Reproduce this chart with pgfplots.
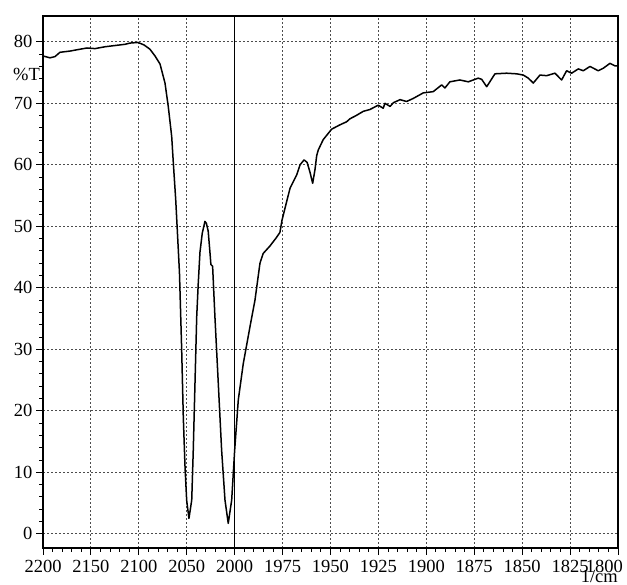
\documentclass[border=0pt]{standalone}
\usepackage{pgfplots}
\pgfplotsset{compat=1.18}
\usepackage{fontspec}
\setmainfont{Liberation Serif}

% IR spectrum, transmittance against wavenumber
% scale changes at 2000 1/cm: 50 per division left of it, 25 per division right of it
\begin{document}
\begin{tikzpicture}
\begin{axis}[
    scale only axis,
    width=575pt, height=532pt,
    xmin=0, xmax=12,
    ymin=-2.3, ymax=84.2,
    xtick={0,1,...,12},
    xticklabels={2200,2150,2100,2050,2000,1975,1950,1925,1900,1875,1850,1825,{\makebox[0pt][r]{1800\kern-5pt}}},
    ytick={0,10,...,80},
    minor x tick num=4,
    minor y tick num=4,
    tick pos=left,
    tick align=outside,
    major tick length=7pt,
    minor tick length=4pt,
    every tick/.style={black, line width=0.9pt},
    axis line style={line width=1.5pt},
    grid=major,
    major grid style={gray!60!black, line width=1pt, dash pattern=on 1.8pt off 2.2pt},
    tick label style={font=\fontsize{18.5}{20}\selectfont},
    xticklabel style={inner sep=1pt, yshift=-4.5pt},
    /pgf/number format/assume math mode=true,
    clip=false,
]
% scale change marker
\addplot[black, line width=1.6pt] coordinates {(4,-2.3) (4,84.2)};

\addplot[black, line width=1.5pt, line join=round] table[
    x expr={ifthenelse(\thisrow{w}>=2000, (2200-\thisrow{w})/50, 4+(2000-\thisrow{w})/25)},
    y=T] {
w T
2200 77.7
2192.7 77.4
2187.5 77.6
2182.3 78.3
2171.8 78.5
2161.4 78.8
2154.1 79.0
2145.7 78.9
2135.3 79.2
2124.9 79.4
2114.4 79.6
2109.2 79.8
2100.9 79.9
2094.6 79.5
2088.4 78.8
2083.1 77.7
2077.9 76.4
2072.7 73.3
2069.3 69.5
2065.7 64.6
2064.0 60.3
2061.5 54.3
2059.5 48.3
2057.6 42.5
2055.3 30.0
2053.6 19.0
2051.8 10.9
2050.1 5.5
2047.7 2.5
2044.8 5.5
2043.2 13.6
2041.4 24.5
2039.6 35.3
2038.0 40.7
2036.2 45.8
2033.8 48.9
2031.0 50.8
2029.5 50.5
2027.6 49.2
2025.8 45.8
2024.8 43.8
2023.0 43.5
2020.6 35.3
2017.1 24.5
2013.6 13.6
2010.1 5.5
2006.7 1.7
2003.1 5.5
2000.0 13.6
1998.1 21.8
1995.5 27.7
1992.0 33.7
1989.4 38.0
1986.8 44.0
1985.1 45.6
1981.6 46.8
1978.4 48.1
1976.4 49.0
1975.3 51.0
1973.7 53.0
1971.1 56.2
1967.6 58.4
1965.9 60.0
1963.8 60.8
1962.2 60.4
1960.7 58.8
1959.3 57.0
1958.1 59.2
1957.2 61.5
1956.4 62.4
1953.8 64.1
1949.4 65.8
1945.1 66.5
1941.6 67.0
1939.8 67.5
1936.7 68.0
1932.9 68.7
1929.4 69.0
1925.1 69.7
1922.5 69.2
1921.6 70.0
1918.9 69.5
1917.2 70.1
1913.7 70.6
1910.3 70.3
1906.8 70.8
1901.6 71.7
1896.4 71.9
1892.0 73.0
1890.3 72.5
1887.7 73.5
1882.5 73.8
1878.1 73.5
1872.9 74.1
1871.1 73.9
1868.5 72.7
1864.2 74.8
1858.1 74.9
1852.9 74.8
1849.4 74.6
1846.8 74.1
1844.2 73.3
1840.7 74.6
1837.2 74.5
1832.9 74.9
1829.4 73.8
1826.8 75.3
1824.2 74.9
1820.7 75.6
1818.1 75.3
1814.6 76.0
1810.3 75.3
1807.7 75.7
1804.2 76.5
1801.6 76.1
1800.0 76.1
};

% axis captions
\node[anchor=base east, font=\fontsize{18.5}{20}\selectfont, inner sep=0pt]
    at ([xshift=-3pt]axis cs:0,73.7) {\%T};
\node[anchor=base east, font=\fontsize{18.5}{20}\selectfont, inner sep=0pt]
    at ([yshift=-34.5pt]rel axis cs:1,0) {1/cm};
% page extent matching the reference
\path (rel axis cs:-0.0748,-0.0695) rectangle (rel axis cs:1.0157,1.0301);
\end{axis}
\end{tikzpicture}
\end{document}
